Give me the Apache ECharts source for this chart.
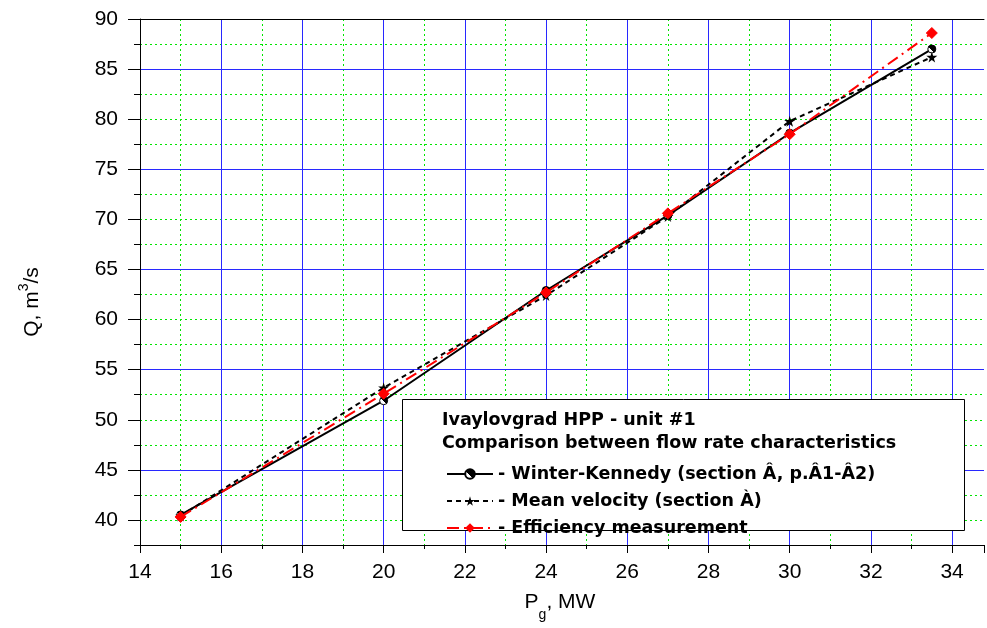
<!DOCTYPE html>
<html><head><meta charset="utf-8">
<script src="https://cdn.jsdelivr.net/npm/echarts@6/dist/echarts.min.js"></script>
<style>html,body{margin:0;padding:0;background:#fff}#c{width:987px;height:628px}</style>
</head><body><div id="c"></div>
<script>
// ---- data ----
const power = [15, 20, 24, 27, 30, 33.5];
const winterKennedy = [40.5, 51.9, 62.9, 70.4, 78.6, 87.0];
const meanVelocity = [40.4, 53.2, 62.4, 70.3, 79.8, 86.2];
const efficiency = [40.3, 52.6, 62.7, 70.6, 78.5, 88.6];
const xRange = [14, 34.785];
const xStep = 2;
const yRange = [37.5, 90];
const yMinorStep = 2.5;
const yLabels = [40, 45, 50, 55, 60, 65, 70, 75, 80, 85, 90];
const seriesNames = ['- Winter-Kennedy (section Â, p.Â1-Â2)', '- Mean velocity (section À)', '- Efficiency measurement'];
const legendTitle = ['Ivaylovgrad HPP - unit #1', 'Comparison between flow rate characteristics'];

const pairs = (xs, ys) => xs.map((x, i) => [x, ys[i]]);
const FONT = 'Liberation Sans, Arial, sans-serif';
const LFONT = 'bold 17.5px "DejaVu Sans", sans-serif';
const STAR = 'path://M50,0 L61,35 L98,35 L68,57 L79,91 L50,70 L21,91 L32,57 L2,35 L39,35 Z';
const BLUE = '#2828ff';
const GREEN = '#00e600';

const chart = echarts.init(document.getElementById('c'), null, {renderer: 'canvas'});
const halfCircle = new echarts.graphic.LinearGradient(0, 1, 1, 0, [
  {offset: 0, color: '#ffffff'}, {offset: 0.45, color: '#ffffff'},
  {offset: 0.45, color: '#000000'}, {offset: 1, color: '#000000'}
]);
const isMajorY = v => yLabels.some(t => Math.abs(t - v) < 1e-9);

const option = {
  animation: false,
  backgroundColor: '#ffffff',
  grid: {left: 140, top: 19, right: 0, height: 526, containLabel: false},
  xAxis: [{
    type: 'value', min: xRange[0], max: xRange[1], interval: xStep, position: 'bottom',
    axisLine: {show: true, lineStyle: {color: '#000', width: 1}},
    axisTick: {show: true, inside: false, length: 8, lineStyle: {color: '#000'}},
    minorTick: {show: true, splitNumber: 2, length: 4, lineStyle: {color: '#000'}},
    splitLine: {show: true, showMinLine: false, showMaxLine: false, lineStyle: {color: BLUE, width: 1, type: 'solid'}},
    minorSplitLine: {show: true, lineStyle: {color: GREEN, width: 1, type: [2, 3]}},
    axisLabel: {color: '#000', fontSize: 21, fontFamily: FONT, margin: 17,
      formatter: v => (Math.abs(v % xStep) < 1e-9 ? String(v) : '')}
  }, {
    type: 'value', min: xRange[0], max: xRange[1], interval: xStep, position: 'top',
    axisLine: {show: true, lineStyle: {color: '#000', width: 1}},
    axisTick: {show: false}, axisLabel: {show: false}, splitLine: {show: false}
  }],
  yAxis: [{
    // green dotted lines + short ticks at every 2.5
    type: 'value', min: yRange[0], max: yRange[1], interval: yMinorStep, z: 0,
    axisLine: {show: false},
    axisTick: {show: true, inside: false, length: 6, lineStyle: {color: '#000'}},
    splitLine: {show: true, showMinLine: false, showMaxLine: false, lineStyle: {color: GREEN, width: 1, type: [2, 3]}},
    axisLabel: {show: false}
  }, {
    // blue solid lines at every 5, long ticks and labels
    type: 'value', min: yRange[0], max: yRange[1], interval: yMinorStep, position: 'left', z: 1,
    axisLine: {show: true, onZero: false, lineStyle: {color: '#000', width: 1}},
    axisTick: {show: true, inside: false, length: 12, customValues: yLabels, lineStyle: {color: '#000'}},
    splitLine: {show: true, showMinLine: false, showMaxLine: false,
      lineStyle: {color: [BLUE, 'rgba(0,0,0,0)'], width: 1, type: 'solid'}},
    axisLabel: {color: '#000', fontSize: 21, fontFamily: FONT, margin: 22,
      formatter: v => (isMajorY(v) ? String(v) : '')}
  }],
  legend: {
    show: true, orient: 'vertical', left: 441, top: 460, z: 6,
    itemWidth: 46, itemHeight: 12, itemGap: 9,
    data: seriesNames,
    textStyle: {color: '#000', fontSize: 17.5, lineHeight: 14, fontWeight: 'bold', fontFamily: 'DejaVu Sans, sans-serif'}
  },
  graphic: [
    {type: 'rect', z: 5, shape: {x: 402.5, y: 399.5, width: 562, height: 131},
     style: {fill: '#fff', stroke: '#000', lineWidth: 1}},
    {type: 'text', z: 6, x: 442, y: 420, style: {text: legendTitle[0], fill: '#000',
     font: LFONT, verticalAlign: 'middle'}},
    {type: 'text', z: 6, x: 442, y: 443.5, style: {text: legendTitle[1], fill: '#000',
     font: LFONT, verticalAlign: 'middle'}},
    {type: 'text', z: 6, x: 30, y: 302, rotation: Math.PI / 2,
     style: {text: '{a|Q, m}{s|3}{a|/s}', align: 'center', verticalAlign: 'middle',
       rich: {a: {fontSize: 21, fontFamily: FONT, fill: '#000', lineHeight: 26, verticalAlign: 'bottom'},
              s: {fontSize: 14, fontFamily: FONT, fill: '#000', lineHeight: 26, verticalAlign: 'top'}}}},
    {type: 'text', z: 6, x: 560, y: 607,
     style: {text: '{a|P}{s|g}{a|, MW}', align: 'center', verticalAlign: 'middle',
       rich: {a: {fontSize: 21, fontFamily: FONT, fill: '#000', lineHeight: 30, verticalAlign: 'top'},
              s: {fontSize: 14, fontFamily: FONT, fill: '#000', lineHeight: 30, verticalAlign: 'bottom'}}}}
  ],
  series: [{
    name: seriesNames[0], type: 'line', data: pairs(power, winterKennedy), z: 3, yAxisIndex: 1,
    lineStyle: {color: '#000', width: 2, type: 'solid'},
    symbol: 'circle', symbolSize: 8,
    itemStyle: {color: halfCircle, borderColor: '#000', borderWidth: 1}
  }, {
    name: seriesNames[1], type: 'line', data: pairs(power, meanVelocity), z: 3, yAxisIndex: 1,
    lineStyle: {color: '#000', width: 2, type: [5, 4]},
    symbol: STAR, symbolSize: 11,
    itemStyle: {color: '#000'}
  }, {
    name: seriesNames[2], type: 'line', data: pairs(power, efficiency), z: 4, yAxisIndex: 1,
    lineStyle: {color: '#ff0000', width: 2, type: [12, 5, 2, 5]},
    symbol: 'diamond', symbolSize: 11,
    itemStyle: {color: '#ff0000', borderColor: '#ff0000'}
  }]
};
chart.setOption(option);
</script>
</body></html>
